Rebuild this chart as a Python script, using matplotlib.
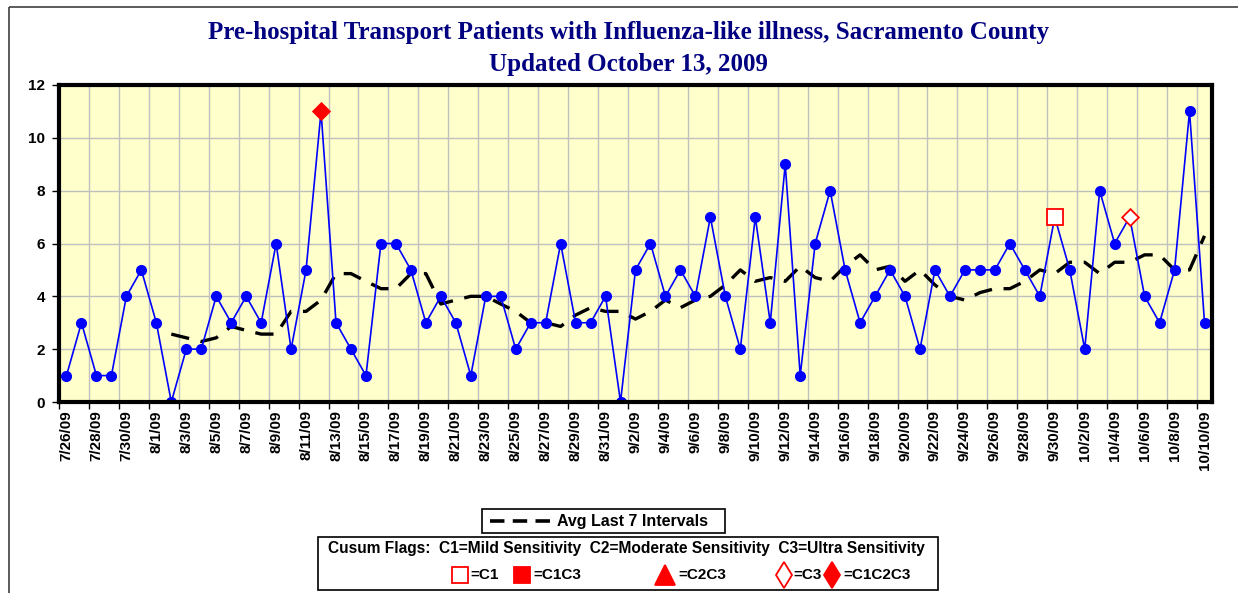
import matplotlib
matplotlib.use("Agg")
import matplotlib.pyplot as plt
import pandas as pd
from matplotlib.patches import Rectangle
from matplotlib.lines import Line2D

# ---------------- data ----------------
dates = pd.date_range("2009-07-26", "2009-10-10", freq="D")
date_labels = [f"{d.month}/{d.day}/{d.strftime('%y')}" for d in dates]

patients = [1, 3, 1, 1, 4, 5, 3, 0, 2, 2, 4, 3, 4, 3, 6, 2, 5, 11, 3, 2,
            1, 6, 6, 5, 3, 4, 3, 1, 4, 4, 2, 3, 3, 6, 3, 3, 4, 0, 5, 6,
            4, 5, 4, 7, 4, 2, 7, 3, 9, 1, 6, 8, 5, 3, 4, 5, 4, 2, 5, 4,
            5, 5, 5, 6, 5, 4, 7, 5, 2, 8, 6, 7, 4, 3, 5, 11, 3]

# "Avg Last 7 Intervals" line, starts on 8/2/09
avg_start = 7
avg_last7 = [2.57, 2.43, 2.29, 2.43, 2.86, 2.71, 2.57, 2.57, 3.43, 3.43,
             3.86, 4.86, 4.86, 4.57, 4.29, 4.29, 4.86, 4.86, 3.71, 3.86,
             4.00, 4.00, 3.71, 3.43, 3.00, 3.00, 2.86, 3.29, 3.57, 3.43,
             3.43, 3.14, 3.43, 3.86, 3.57, 3.86, 4.00, 4.43, 5.00, 4.57,
             4.71, 4.57, 5.14, 4.71, 4.57, 5.14, 5.57, 5.00, 5.14, 4.57,
             5.00, 4.43, 4.00, 3.86, 4.14, 4.29, 4.29, 4.57, 5.00, 4.86,
             5.29, 5.29, 4.86, 5.29, 5.29, 5.57, 5.57, 5.00, 5.00, 6.29]

# Cusum flags (date label, value, type)
flag_dates = ["8/12/09", "9/30/09", "10/5/09"]
flag_values = [11, 7, 7]
flag_types = ["C1C2C3", "C1", "C3"]

title_lines = ["Pre-hospital Transport Patients with Influenza-like illness, Sacramento County",
               "Updated October 13, 2009"]

# ---------------- figure ----------------
W, H = 1238, 593
fig = plt.figure(figsize=(W / 100, H / 100), dpi=100)
fig.patch.set_facecolor("white")

L, R, T, B = 59, 1212, 85, 402
ax = fig.add_axes([L / W, 1 - B / H, (R - L) / W, (B - T) / H])
ax.set_facecolor("#FFFFCC")

RED = "#FF0000"
x = list(range(len(patients)))
ax.plot(x, patients, color="#0000FF", lw=1.2, marker="o", ms=7,
        mfc="#0000FF", mec="#0000FF", zorder=4)
ax.plot(list(range(avg_start, avg_start + len(avg_last7))), avg_last7,
        color="black", lw=2.4, dashes=(5.5, 3.5), zorder=3)

marker_style = {
    "C1": dict(marker="s", ms=11, mfc="white", mec=RED, mew=1.3),
    "C1C3": dict(marker="s", ms=11, mfc=RED, mec=RED, mew=1.3),
    "C2C3": dict(marker="^", ms=13, mfc=RED, mec=RED, mew=1.3),
    "C3": dict(marker=(4, 0, 0), ms=12, mfc="white", mec=RED, mew=1.3),
    "C1C2C3": dict(marker=(4, 0, 0), ms=12, mfc=RED, mec=RED, mew=1.3),
}
for d, v, t in zip(flag_dates, flag_values, flag_types):
    i = date_labels.index(d)
    ax.plot([i], [v], ls="none", zorder=6, **marker_style[t])

ax.set_xlim(-0.5, len(patients) - 0.5)
ax.set_ylim(0, 12)
ax.set_yticks(range(0, 13, 2))
ax.set_yticklabels([str(v) for v in range(0, 13, 2)], fontsize=11,
                   fontweight="bold", family="Liberation Sans")

ax.set_xticks(x[::2])
ax.set_xticklabels(date_labels[::2], rotation=90, fontsize=11,
                   fontweight="bold", family="Liberation Sans", va="top")
ax.tick_params(axis="x", which="major", length=0, pad=6)
bounds = [i - 0.5 for i in range(0, len(patients), 2)]
ax.set_xticks(bounds, minor=True)
ax.tick_params(axis="x", which="minor", length=5, width=1, color="black", direction="out")
ax.tick_params(axis="y", length=5, width=1, direction="out", pad=5)

for b in bounds[1:]:
    ax.axvline(b, color="#C0C0C0", lw=1, zorder=1)
for yv in range(2, 12, 2):
    ax.axhline(yv, color="#C0C0C0", lw=1, zorder=1)

for s in ax.spines.values():
    s.set_linewidth(3)
    s.set_color("black")
    s.set_zorder(7)

# ---------------- overlay (title, border, legends) ----------------
ov = fig.add_axes([0, 0, 1, 1], facecolor="none")
ov.set_xlim(0, W)
ov.set_ylim(H, 0)
ov.axis("off")
ov.set_zorder(10)

ov.add_patch(Rectangle((9, 7), W + 20, H + 20, fill=False, ec="#404040", lw=1.2))

ov.text(628, 33, title_lines[0], ha="center", va="center", fontsize=18,
        fontweight="bold", family="Liberation Serif", color="#000080")
ov.text(628, 65, title_lines[1], ha="center", va="center", fontsize=18,
        fontweight="bold", family="Liberation Serif", color="#000080")

# legend box 1
ov.add_patch(Rectangle((482, 509), 243, 24, fill=True, fc="white", ec="black", lw=1.2))
ov.add_line(Line2D([490, 550], [521, 521], color="black", lw=2.6, dashes=(4, 2.3)))
ov.text(557, 521.5, "Avg Last 7 Intervals", ha="left", va="center", fontsize=11.5,
        fontweight="bold", family="Liberation Sans")

# legend box 2
ov.add_patch(Rectangle((318, 537), 620, 53, fill=True, fc="white", ec="black", lw=1.2))
ov.text(328, 548, "Cusum Flags:  C1=Mild Sensitivity  C2=Moderate Sensitivity  C3=Ultra Sensitivity",
        ha="left", va="center", fontsize=11.2, fontweight="bold", family="Liberation Sans")

legend_items = [("C1", 460, 470), ("C1C3", 522, 533), ("C2C3", 665, 678),
                ("C3", 784, 793), ("C1C2C3", 832, 843)]
legend_marker = {
    "C1": dict(marker="s", ms=12, mfc="white", mec=RED, mew=1.3),
    "C1C3": dict(marker="s", ms=12, mfc=RED, mec=RED, mew=1.3),
    "C2C3": dict(marker="^", ms=15, mfc=RED, mec=RED, mew=1.3),
    "C3": dict(marker="d", ms=13, mfc="white", mec=RED, mew=1.3),
    "C1C2C3": dict(marker="d", ms=13, mfc=RED, mec=RED, mew=1.3),
}
for t, mx, tx in legend_items:
    ov.plot([mx], [575], ls="none", **legend_marker[t])
    ov.text(tx, 575, "=" + t, ha="left", va="center", fontsize=11,
            fontweight="bold", family="Liberation Sans")

fig.savefig("out.png", dpi=100)
